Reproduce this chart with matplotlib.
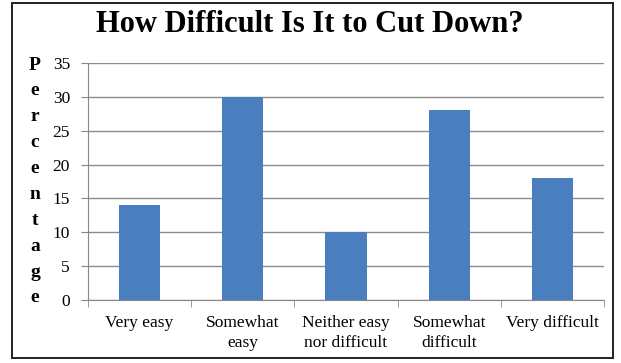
import matplotlib.pyplot as plt
from matplotlib.patches import Rectangle

categories = ["Very easy", "Somewhat\neasy", "Neither easy\nnor difficult",
              "Somewhat\ndifficult", "Very difficult"]
percentages = [14, 30, 10, 28, 18]
y_ticks = [0, 5, 10, 15, 20, 25, 30, 35]

plt.rcParams['font.family'] = ['Liberation Serif', 'DejaVu Serif']

fig = plt.figure(figsize=(6.21, 3.63), dpi=100)
W, H = 621, 363

# outer frame around the whole chart
fig.patches.append(Rectangle((12 / W, 1 - 358 / H), (613 - 12) / W, (358 - 3) / H,
                             transform=fig.transFigure, fill=False,
                             edgecolor='#222222', linewidth=1.4))

ax = fig.add_axes([88 / W, 1 - 300 / H, (604 - 88) / W, (300 - 63) / H])

x = list(range(len(categories)))
ax.bar(x, percentages, width=0.4, color='#4a7ebf', zorder=3)

ax.set_xlim(-0.5, len(categories) - 0.5)
ax.set_ylim(0, 35)
ax.set_yticks(y_ticks)
ax.tick_params(axis='y', length=5, color='#888888', labelsize=12.5, pad=8)
ax.grid(axis='y', color='#8c8c8c', linewidth=1, zorder=0)

# category labels centred, ticks on the boundaries
ax.set_xticks(x)
ax.set_xticklabels(categories, fontsize=12.5, linespacing=1.3)
ax.tick_params(axis='x', length=0, pad=11)
ax.set_xticks([i - 0.5 for i in range(len(categories) + 1)], minor=True)
ax.tick_params(axis='x', which='minor', length=5, color='#888888')

for side in ['top', 'right']:
    ax.spines[side].set_visible(False)
for side in ['left', 'bottom']:
    ax.spines[side].set_color('#888888')

fig.text(310 / W, 1 - 25 / H, "How Difficult Is It to Cut Down?",
         ha='center', va='center', fontsize=22, fontweight='bold')

# vertical stacked axis label
label = "Percentage"
top, bottom = 65, 298
step = (bottom - top) / (len(label) - 1)
for i, ch in enumerate(label):
    fig.text(35 / W, 1 - (top + i * step) / H, ch, ha='center', va='center',
             fontsize=14, fontweight='bold')

fig.savefig("out.png", dpi=100)
